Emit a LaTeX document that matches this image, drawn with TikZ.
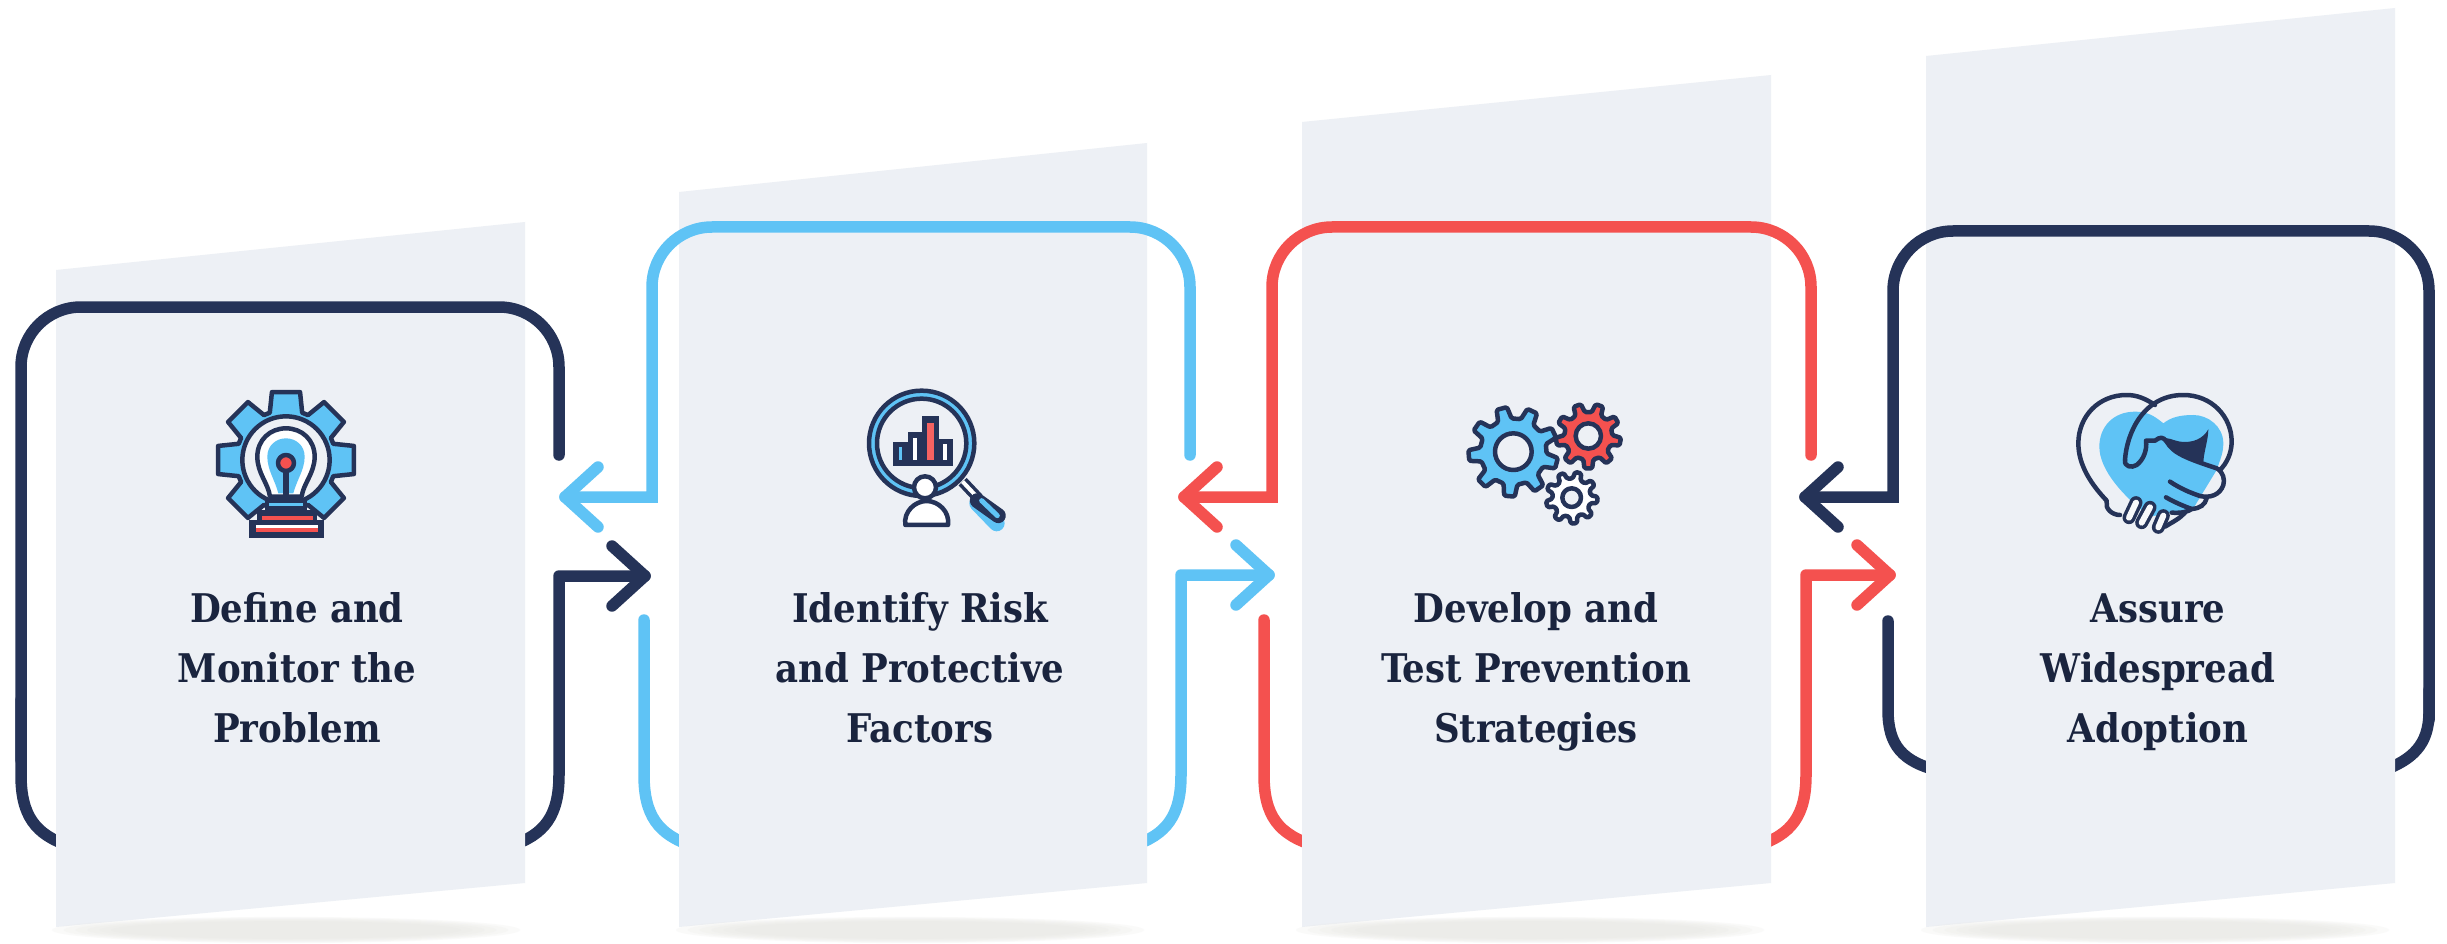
\documentclass[tikz,border=0pt]{standalone}
\usepackage{fontspec}
\newfontfamily\lblfont{DejaVu Serif Condensed}[BoldFont={DejaVu Serif Condensed Bold}]
\definecolor{navy}{HTML}{253358}
\definecolor{sky}{HTML}{5FC3F5}
\definecolor{coral}{HTML}{F4514F}
\definecolor{panelc}{HTML}{EDF0F5}
\definecolor{shadowc}{HTML}{E8E8E4}
\tikzset{
  frameline/.style={line width=11.5pt,line cap=round,line join=round,rounded corners=60pt},
  sharpline/.style={line width=11.5pt,line cap=round,line join=round},
  panel/.style={fill=panelc,draw=none},
  lbl/.style={font=\lblfont\bfseries\fontsize{39.5}{60}\selectfont,align=center,text=navy!70!black,inner sep=0pt},
  ic/.style={line width=4.5pt,draw=navy,line join=round,line cap=round},
}
% chevron head at tip, direction +1 right / -1 left
\newcommand\chevron[3]{\draw[#1,sharpline] ($(#2)+(-#3*33,-30)$) -- (#2) -- ($(#2)+(-#3*33,30)$);}
\newcommand\mygear[9]{%
  \gdef\gearpts{}%
  \pgfmathsetmacro\st{360/#5}%
  \foreach \i in {1,...,#5}{%
    \pgfmathsetmacro\aa{#6+\i*\st-#8*\st}%
    \pgfmathsetmacro\ab{#6+\i*\st-#9*\st}%
    \pgfmathsetmacro\ac{#6+\i*\st+#9*\st}%
    \pgfmathsetmacro\ad{#6+\i*\st+#8*\st}%
    \xdef\gearpts{\gearpts (\aa:#4) -- (\ab:#3) -- (\ac:#3) -- (\ad:#4) -- }%
  }%
  \draw[#7,shift={(#1,#2)}] \gearpts cycle;
}
\newcommand\shadowat[1]{%
  \foreach \k in {1,...,6}{\fill[shadowc,opacity=.2] (#1,930) ellipse ({234*(0.70+0.05*\k)} and {13*(0.62+0.065*\k)});}%
}
\usetikzlibrary{calc}
\begin{document}
\begin{tikzpicture}[x=1pt,y=-1pt]
\useasboundingbox (0,0) rectangle (2447,944);
\fill[white] (0,0) rectangle (2447,944);
% coordinates
\coordinate (tipA) at (645,576);
\coordinate (tipB) at (565,497);
\coordinate (tipC) at (1269,575);
\coordinate (tipD) at (1184,497);
\coordinate (tipE) at (1890,575);
\coordinate (tipF) at (1805,497);
% lower parts, behind panels
\draw[navy,sharpline] (21,700) -- (21,775) .. controls (21,815) and (35,835) .. (70,846);
\draw[navy,sharpline] (tipA) -- (559,576) -- (559,775) .. controls (559,815) and (545,835) .. (510,846);
\chevron{navy}{tipA}{1}
\draw[sky,sharpline] (644,620) -- (644,775) .. controls (644,815) and (658,835) .. (693,846);
\draw[sky,sharpline] (tipC) -- (1181,575) -- (1181,775) .. controls (1181,815) and (1167,835) .. (1132,846);
\chevron{sky}{tipC}{1}
\draw[coral,sharpline] (1264,620) -- (1264,775) .. controls (1264,815) and (1278,835) .. (1316,846);
\draw[coral,sharpline] (tipE) -- (1806,575) -- (1806,775) .. controls (1806,815) and (1792,835) .. (1756,846);
\chevron{coral}{tipE}{1}
\draw[navy,sharpline] (1888,621) -- (1888,710) .. controls (1888,745) and (1902,762) .. (1940,771);
\draw[navy,sharpline] (2429,690) -- (2429,712) .. controls (2429,745) and (2412,760) .. (2382,771);
% panels
\fill[panel] (56,270) -- (525,222) -- (525,883) -- (56,927) -- cycle;
\fill[panel] (679,192) -- (1147,143) -- (1147,883) -- (679,927) -- cycle;
\fill[panel] (1302,122) -- (1771,75) -- (1771,883) -- (1302,927) -- cycle;
\fill[panel] (1926,56) -- (2395,8) -- (2395,883) -- (1926,927) -- cycle;
\shadowat{286}\shadowat{910}\shadowat{1530}\shadowat{2155}
% upper parts, over panels
\draw[navy,frameline] (559,455) -- (559,307) -- (21,307) -- (21,760);
\draw[sky,line width=11.5pt,line cap=round] (1190,455) [rounded corners=60pt] -- (1190,227) -- (652,227) [sharp corners] -- (652,497) -- (tipB);
\chevron{sky}{tipB}{-1}
\draw[coral,line width=11.5pt,line cap=round] (1811,455) [rounded corners=60pt] -- (1811,227) -- (1272,227) [sharp corners] -- (1272,497) -- (tipD);
\chevron{coral}{tipD}{-1}
\draw[navy,line width=11.5pt,line cap=round] (tipF) -- (1893,497) [rounded corners=60pt] -- (1893,231) -- (2429,231) -- (2429,720);
\chevron{navy}{tipF}{-1}
% icon 1
\begin{scope}[shift={(180,360)},x=.3333pt,y=-.3333pt]
 \mygear{318}{300}{208}{150}{8}{-90}{ic,fill=sky}{.42}{.26}
 \draw[ic,fill=panelc] (318,300) circle (131);
 \draw[ic,fill=white] (270,410) .. controls (265,370) and (232,340) .. (232,290) .. controls (232,240) and (270,205) .. (318,205) .. controls (366,205) and (404,240) .. (404,290) .. controls (404,340) and (370,370) .. (365,410) -- cycle;
 \fill[sky] (295,400) .. controls (285,360) and (262,330) .. (262,290) .. controls (262,255) and (290,235) .. (318,235) .. controls (346,235) and (374,255) .. (374,290) .. controls (374,330) and (350,360) .. (340,400) -- cycle;
 \draw[ic,line width=6pt,line cap=butt] (318,310) -- (318,415);
 \draw[ic,fill=coral] (318,309) circle (24);
 \fill[navy] (255,415) rectangle (382,450);
 \fill[sky] (268,428) rectangle (370,438);
 \fill[navy] (232,450) rectangle (412,485);
 \fill[coral] (247,467) rectangle (398,480);
 \fill[navy] (208,480) rectangle (433,535);
 \fill[white] (228,495) rectangle (415,503);
 \fill[coral] (228,503) rectangle (415,515);
\end{scope}
% icon 2
\begin{scope}[shift={(840,370)},x=.3333pt,y=-.3333pt]
 \draw[ic,fill=sky] (245,220) circle (158);
 \draw[ic,fill=panelc] (245,220) circle (134);
 \fill[navy] (158,215) rectangle (205,288);
 \fill[navy] (203,187) rectangle (248,288);
 \fill[navy] (247,138) rectangle (297,288);
 \fill[navy] (297,207) rectangle (340,288);
 \fill[sky] (178,230) rectangle (186,270);
 \fill[white] (218,203) rectangle (230,270);
 \fill[coral!90!white] (262,158) rectangle (281,270);
 \fill[white] (310,222) rectangle (322,270);
 \draw[navy,line width=11pt] (368,335) -- (415,385);
 \draw[white,line width=4pt] (368,335) -- (415,385);
 \draw[sky,line width=16pt,line cap=round] (412,400) -- (470,460);
 \draw[navy,line width=15pt,line cap=round] (412,392) -- (475,437);
 \draw[sky,line width=5pt,line cap=round] (425,392) -- (472,437);
 \draw[ic,fill=white] (255,352) circle (33);
 \draw[ic,fill=white] (196,465) .. controls (190,425) and (225,393) .. (260,393) .. controls (295,393) and (330,425) .. (324,465) -- cycle;
\end{scope}
% icon 3
\begin{scope}[shift={(1450,380)},x=.3333pt,y=-.3333pt]
 \mygear{190}{215}{135}{100}{9}{-65}{ic,fill=sky,rounded corners=1.5pt}{.30}{.17}
 \draw[ic,fill=panelc] (190,215) circle (55);
 \mygear{415}{168}{98}{72}{9}{-70}{ic,fill=coral,rounded corners=1.5pt}{.30}{.17}
 \draw[ic,fill=panelc] (415,168) circle (38);
 \mygear{365}{353}{78}{58}{9}{-75}{ic,fill=white,rounded corners=1.5pt}{.30}{.17}
 \draw[ic,fill=panelc] (365,353) circle (28);
\end{scope}
% icon 4
\begin{scope}[shift={(2060,370)},x=.3333pt,y=-.3333pt]
 \fill[sky] (310,160) .. controls (280,135) and (260,125) .. (225,125) .. controls (160,125) and (118,170) .. (118,230) .. controls (118,300) and (190,380) .. (270,440) -- (400,415) -- (470,300) .. controls (480,270) and (490,250) .. (490,220) .. controls (490,170) and (445,135) .. (400,135) .. controls (365,135) and (335,140) .. (310,160) -- cycle;
 \draw[ic] (285,105) .. controls (255,85) and (230,75) .. (200,75) .. controls (115,75) and (55,140) .. (55,220) .. controls (55,290) and (100,350) .. (140,392);
 \draw[ic] (195,270) .. controls (200,190) and (250,75) .. (370,75) .. controls (455,75) and (515,140) .. (515,215) .. controls (515,250) and (500,280) .. (480,300);
 \fill[navy] (320,215) .. controls (340,250) and (380,265) .. (430,280) .. controls (430,250) and (445,210) .. (445,178) .. controls (430,205) and (400,220) .. (360,215) .. controls (340,212) and (325,200) .. (300,205) -- cycle;
 \draw[ic] (195,270) .. controls (192,290) and (215,295) .. (230,285) .. controls (250,270) and (262,240) .. (258,212) -- (285,212) .. controls (300,200) and (310,200) .. (320,215) .. controls (340,250) and (380,265) .. (470,295) .. controls (490,305) and (495,330) .. (490,345) .. controls (480,375) and (450,385) .. (420,378);
 \draw[ic] (330,335) .. controls (360,355) and (390,368) .. (420,378);
 \draw[ic] (318,382) .. controls (340,395) and (370,408) .. (395,417);
 \draw[ic] (440,385) .. controls (435,405) and (420,415) .. (395,417) .. controls (385,425) and (365,430) .. (335,428);
 \draw[ic] (375,428) .. controls (360,445) and (340,455) .. (315,470);
 \draw[ic] (140,395) .. controls (135,415) and (155,435) .. (180,435);
 \foreach \xa/\ya/\xb/\yb in {228/398/207/443, 270/412/245/458, 310/437/295/472}{
  \draw[navy,line width=13pt,line cap=round] (\xa,\ya) -- (\xb,\yb);
  \draw[panelc!40!white,line width=6pt,line cap=round] (\xa,\ya) -- (\xb,\yb);
 }
\end{scope}
% labels
\node[lbl] (t1) at (297,668) {Define and\\Monitor the\\Problem};
\node[lbl] (t2) at (920,668) {Identify Risk\\and Protective\\Factors};
\node[lbl] (t3) at (1536,672) {Develop and\\Test Prevention\\Strategies};
\node[lbl] (t4) at (2158,672) {Assure\\Widespread\\Adoption};
\end{tikzpicture}
\end{document}
